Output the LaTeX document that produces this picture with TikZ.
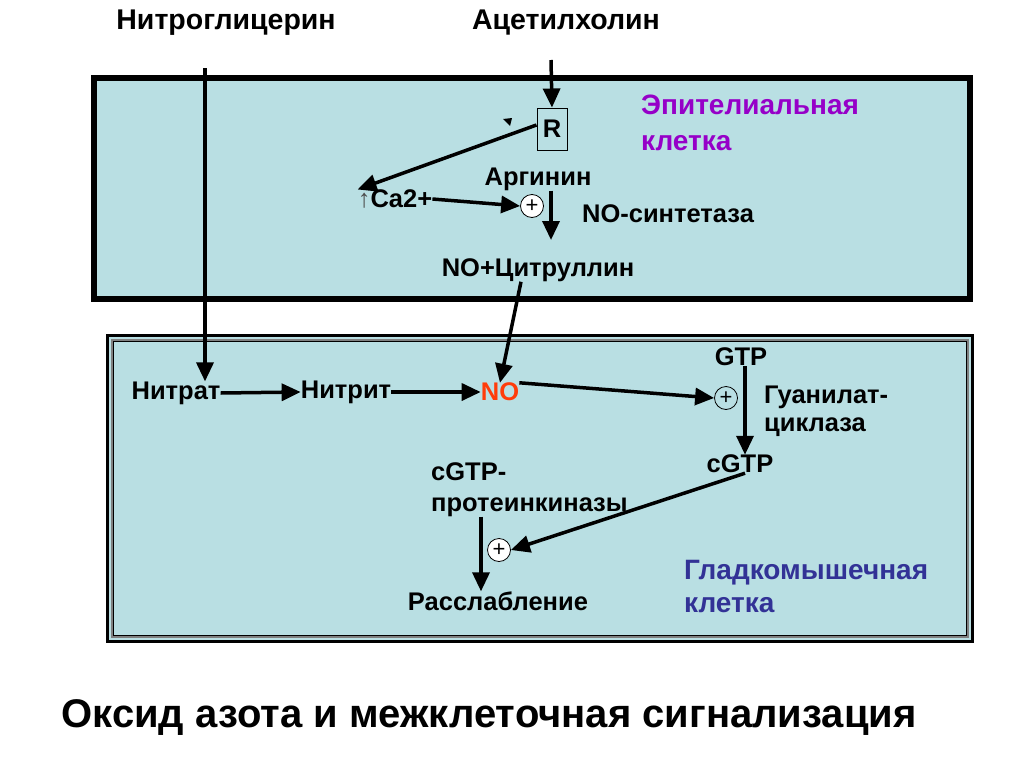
\documentclass[tikz,border=0pt]{standalone}
\usepackage{fontspec}
\setmainfont{Liberation Sans}
\usetikzlibrary{arrows.meta,positioning}
\definecolor{cellfill}{RGB}{185,223,227}
\definecolor{epicol}{RGB}{150,0,200}
\definecolor{smcol}{RGB}{50,50,150}
\definecolor{nocol}{RGB}{255,60,10}

\begin{document}
\begin{tikzpicture}[x=1pt,y=-1pt,
  lbl/.style={font=\fontsize{25.5}{28}\selectfont\bfseries,inner sep=0pt},
  toplbl/.style={font=\fontsize{28.5}{30}\selectfont\bfseries,inner sep=0pt},
  cellname/.style={font=\fontsize{28}{35}\selectfont\bfseries,inner sep=0pt,align=left},
  arr/.style={line width=3.5pt,-{Triangle[length=19pt,width=17pt]}},
  plus/.style={circle,draw,line width=0.8pt,minimum size=23pt,inner sep=0pt,
    font=\fontsize{22}{22}\selectfont}]
\useasboundingbox (0,0) rectangle (1024,768);
% the two cells
\draw[line width=6pt,fill=cellfill] (94,78) rectangle (970,299);
\draw[line width=3pt,fill=cellfill] (107,335) rectangle (972,641);
\draw[line width=2pt,gray] (111.5,339.5) rectangle (967.5,636.5);
\draw[line width=0.8pt] (113,341) rectangle (966,635);
% outside labels
\node[toplbl] (glyc) at (226,23) {Нитроглицерин};
\node[toplbl] (acet) at (566,23) {Ацетилхолин};
\coordinate (gtop) at (205,68);
\coordinate (atop) at (551,60);
% epithelial cell
\node[draw,line width=1pt,minimum width=30pt,minimum height=42pt,lbl] (r) at (552,129) {R};
\node[lbl] (ca) at (395,199) {{\mdseries\color{black!70}↑}Ca2+};
\node[plus,fill=white] (p1) at (532,206) {+};
\node[lbl] (arg) at (538,179) {Аргинин};
\node[lbl] (syn) at (668,214) {NO-синтетаза};
\node[lbl] (citr) at (538,270) {NO+Цитруллин};
\node[cellname,text=epicol,anchor=north west,font=\fontsize{28}{36}\selectfont\bfseries] (epi) at (641,95) {Эпителиальная\\клетка};
\fill (503,119) -- (512,118) -- (510,126) -- cycle;
% smooth muscle cell
\node[lbl] (nitrat) at (176,393) {Нитрат};
\node[lbl] (nitrit) at (346,392) {Нитрит};
\node[lbl,text=nocol] (no) at (500,392) {NO};
\node[plus] (p2) at (726,398) {+};
\node[lbl] (gtp) at (741,357) {GTP};
\node[lbl,align=left,anchor=north west] (guan) at (764,386) {Гуанилат-\\циклаза};
\node[lbl] (cgtp) at (740,464) {cGTP};
\node[lbl,align=left,anchor=north west,font=\fontsize{25.5}{31}\selectfont\bfseries] (kin) at (431,462) {cGTP-\\протеинкиназы};
\node[plus,fill=white] (p3) at (499,550) {+};
\node[lbl] (rel) at (498,601) {Расслабление};
\node[cellname,text=smcol,anchor=north west,font=\fontsize{28}{33}\selectfont\bfseries] (sm) at (684,560) {Гладкомышечная\\клетка};
% title
\node[font=\fontsize{40}{44}\selectfont\bfseries,inner sep=0pt] (title) at (489,718)
  {Оксид азота и межклеточная сигнализация};
% connectors
\draw[arr] (gtop) -- (nitrat.north -| gtop);
\draw[arr] (atop) -- (r.north);
\draw[arr] (r.west |- 0,125) -- (ca.north west);
\draw[arr] (ca.east) -- (p1.west);
\draw[arr] (arg.south -| 551,0) -- (551,240);
\draw[arr] (citr.south -| 521,0) -- (no.north);
\draw[arr] (nitrat.east) -- (nitrit.west);
\draw[arr] (nitrit.east) -- (no.west);
\draw[arr] (no.north east) -- (p2.west);
\draw[arr] (gtp.south -| 745,0) -- (cgtp.north -| 745,0);
\draw[arr] (cgtp.south -| 745,0) -- (p3.east);
\draw[arr] (kin.south -| 481,0) -- (rel.north -| 481,0);
\end{tikzpicture}
\end{document}
